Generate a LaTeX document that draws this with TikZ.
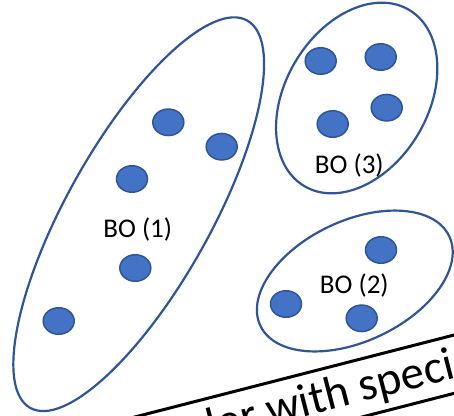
\documentclass[tikz,border=0pt]{standalone}
\usepackage{fontspec}
\setmainfont{Carlito}
\usetikzlibrary{shapes.geometric}
\definecolor{boline}{RGB}{47,85,151}
\definecolor{bofill}{RGB}{68,114,196}
\begin{document}
\begin{tikzpicture}[x=1pt,y=-1pt,
  group/.style={ellipse, draw=boline, line width=2.2pt, inner sep=0pt},
  dot/.style={ellipse, draw=boline, fill=bofill, line width=1.5pt,
    minimum width=31pt, minimum height=26.5pt, inner sep=0pt},
  lbl/.style={font=\fontsize{27}{32}\selectfont, inner sep=0pt},
  framebox/.style={draw=black, line width=3pt, inner sep=0pt, rotate=14.4},
  bigtext/.style={font=\fontsize{47}{54}\selectfont, inner sep=0pt, rotate=14.4}
  ]
\useasboundingbox (0,0) rectangle (454,415);
\clip (0,0) rectangle (454,415);
\fill[white] (0,0) rectangle (454,415);

% groups
\node[group, minimum width=444pt, minimum height=144pt, rotate=60.75] (g1) at (138.7,214.2) {};
\node[group, minimum width=209pt, minimum height=120.4pt, rotate=25.35] (g2) at (354.8,281) {};
\node[group, minimum width=205pt, minimum height=142.6pt, rotate=59.2] (g3) at (356.7,98) {};

% dots of BO (1)
\node[dot] (a1) at (168.3,122.3) {};
\node[dot] (a2) at (221.7,146.7) {};
\node[dot] (a3) at (132,179) {};
\node[dot] (a4) at (135.3,268) {};
\node[dot] (a5) at (58.7,321) {};
% dots of BO (3)
\node[dot] (c1) at (320.7,61) {};
\node[dot] (c2) at (380.7,57) {};
\node[dot] (c3) at (386.7,107.7) {};
\node[dot] (c4) at (332.7,124) {};
% dots of BO (2)
\node[dot] (b1) at (381,250) {};
\node[dot] (b2) at (286,304) {};
\node[dot] (b3) at (361.7,318.3) {};

% labels
\node[lbl] (l1) at (137.7,229) {BO (1)};
\node[lbl] (l2) at (354.3,285) {BO (2)};
\node[lbl] (l3) at (349.3,165.7) {BO (3)};

% rotated text box at the bottom
\node[framebox, minimum width=900pt, minimum height=56.5pt] (box) at (454,364.2) {};
\node[bigtext, anchor=base west] (txt) at (197.3,444.3) {der with speci};
\end{tikzpicture}
\end{document}
